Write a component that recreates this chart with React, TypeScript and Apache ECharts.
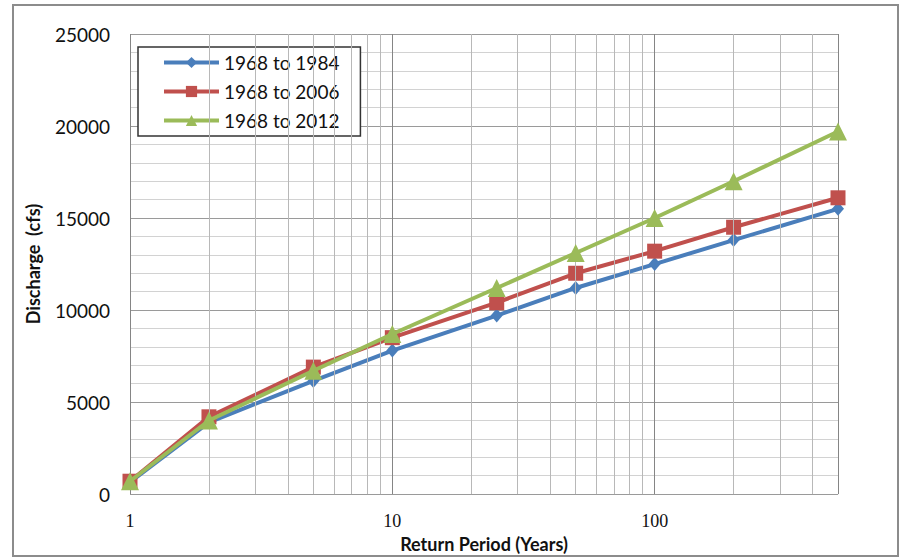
import React, { useEffect, useRef } from "react";
import * as echarts from "echarts";

const returnPeriods = [1, 2, 5, 10, 25, 50, 100, 200, 500];
const q1968to1984 = [650, 3900, 6150, 7800, 9700, 11200, 12500, 13800, 15500];
const q1968to2006 = [700, 4200, 6900, 8500, 10400, 12000, 13200, 14500, 16100];
const q1968to2012 = [700, 4000, 6700, 8700, 11200, 13100, 15000, 17000, 19700];
const seriesNames = ["1968 to 1984", "1968 to 2006", "1968 to 2012"];
const minorXGrid = [2, 3, 4, 5, 6, 7, 8, 9, 20, 30, 40, 50, 60, 70, 80, 90, 200, 300, 400];
const majorXLabels = [1, 10, 100];

export default function App() {
  const ref = useRef<HTMLDivElement>(null);
  useEffect(() => {
    if (!ref.current) return;
    const chart = echarts.init(ref.current, null, { renderer: "svg" });
    const pair = (ys: number[]) => returnPeriods.map((x, i) => [x, ys[i]]);
    chart.setOption({
      animation: false,
      backgroundColor: "#ffffff",
      grid: { left: 130, right: 62, top: 34, bottom: 63 },
      legend: {
        data: seriesNames,
        orient: "vertical",
        left: 138,
        top: 47,
        padding: [6, 21, 6, 24],
        itemGap: 10,
        itemWidth: 55,
        itemHeight: 14,
        borderColor: "#333",
        borderWidth: 1.5,
        backgroundColor: "#fff",
        lineStyle: { width: 4 },
        textStyle: { fontFamily: "Lato", fontSize: 19, color: "#111", lineHeight: 18 },
      },
      xAxis: {
        type: "log",
        logBase: 10,
        min: 1,
        max: 500,
        axisLine: { show: false },
        axisTick: { show: false },
        axisLabel: {
          margin: 18,
          fontFamily: "Liberation Serif",
          fontSize: 18,
          color: "#111",
          formatter: (v: number) => {
            const hit = majorXLabels.find((mv) => Math.abs(mv - v) < 1e-6);
            return hit === undefined ? "" : String(hit);
          },
        },
        splitLine: { show: true, lineStyle: { color: "#858585", width: 1 } },
        name: "Return Period (Years)",
        nameLocation: "middle",
        nameGap: 40,
        nameTextStyle: { fontFamily: "Lato", fontWeight: "bold", fontSize: 18, color: "#111" },
      },
      yAxis: {
        type: "value",
        min: 0,
        max: 25000,
        interval: 5000,
        axisLine: { show: false },
        axisTick: { show: false },
        axisLabel: {
          margin: 20,
          fontFamily: "Lato",
          fontSize: 19,
          color: "#111",
          formatter: (v: number) => String(v),
        },
        splitLine: { show: true, lineStyle: { color: "#9a9a9a", width: 1 } },
        minorTick: { show: false, splitNumber: 5 },
        minorSplitLine: { show: true, lineStyle: { color: "#d2d2d2", width: 1 } },
        name: "Discharge  (cfs)",
        nameLocation: "middle",
        nameGap: 88,
        nameTextStyle: { fontFamily: "Lato", fontWeight: "bold", fontSize: 18, color: "#111" },
      },
      series: [
        {
          name: "minor-grid",
          type: "line",
          data: [],
          z: 1,
          silent: true,
          markLine: {
            silent: true,
            symbol: "none",
            label: { show: false },
            lineStyle: { color: "#b8b8b8", width: 1, type: "solid" },
            data: minorXGrid.map((v) => ({ xAxis: v })),
          },
        },
        {
          name: seriesNames[0],
          type: "line",
          data: pair(q1968to1984),
          z: 3,
          symbol: "diamond",
          symbolSize: [12, 14],
          lineStyle: { color: "#4a7ebb", width: 4 },
          itemStyle: { color: "#4a7ebb" },
        },
        {
          name: seriesNames[1],
          type: "line",
          data: pair(q1968to2006),
          z: 4,
          symbol: "rect",
          symbolSize: 15,
          lineStyle: { color: "#c0504d", width: 4 },
          itemStyle: { color: "#c0504d" },
        },
        {
          name: seriesNames[2],
          type: "line",
          data: pair(q1968to2012),
          z: 5,
          symbol: "triangle",
          symbolSize: 18,
          lineStyle: { color: "#9bbb59", width: 4 },
          itemStyle: { color: "#9bbb59" },
        },
      ],
      graphic: [
        {
          type: "rect",
          shape: { x: 13, y: 5, width: 885, height: 551 },
          style: { fill: "none", stroke: "#8c8c8c", lineWidth: 2 },
          silent: true,
        },
      ],
    });
    return () => chart.dispose();
  }, []);
  return <div ref={ref} style={{ position: "absolute", left: 0, top: 0, width: 900, height: 558 }} />;
}
